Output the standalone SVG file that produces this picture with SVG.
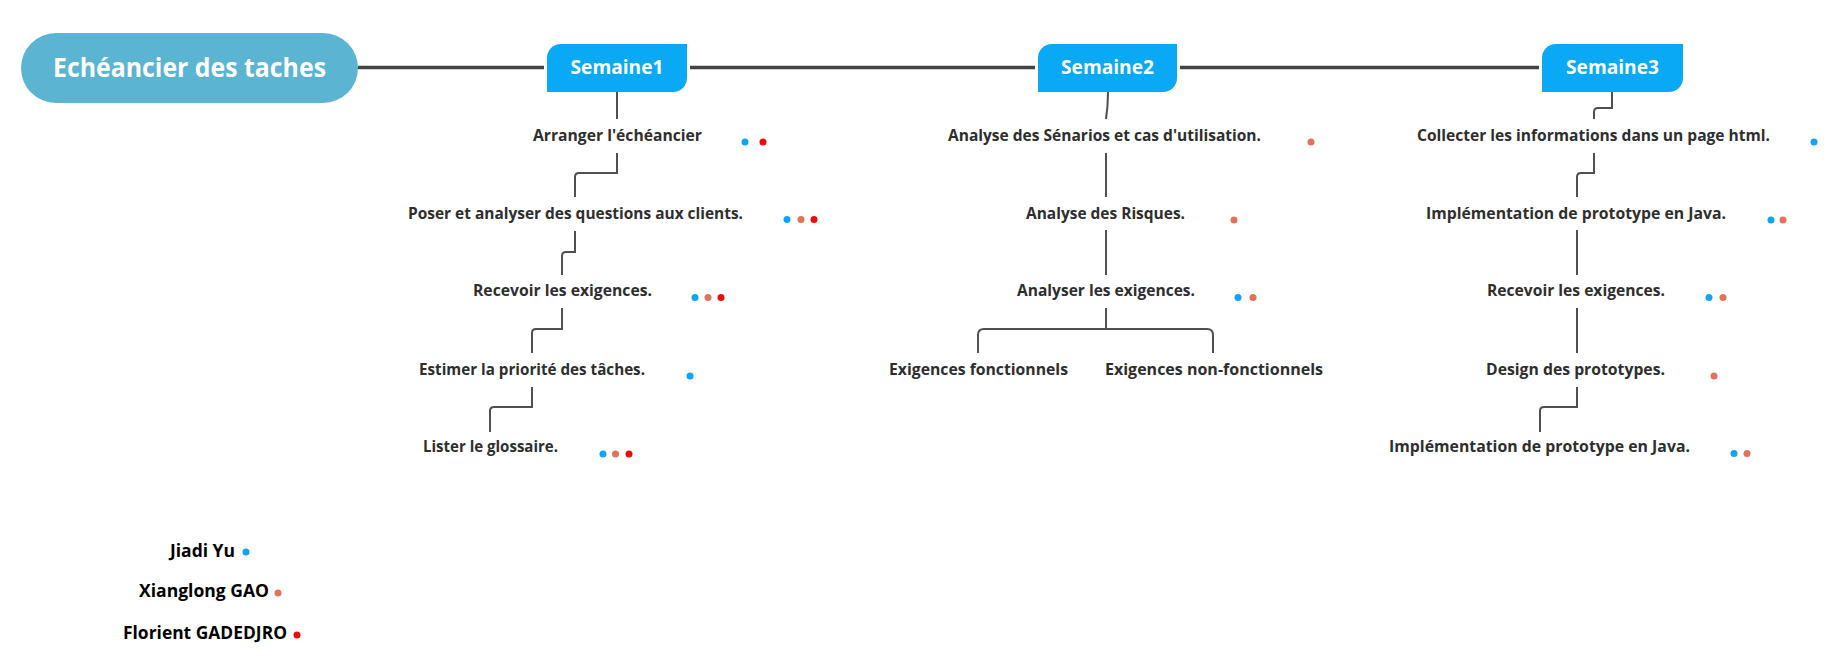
<svg xmlns="http://www.w3.org/2000/svg" width="1846" height="670" viewBox="0 0 1846 670">
<style>
.t{font-family:"Open Sans","Liberation Sans",sans-serif;font-weight:bold;font-size:16.5px;fill:#2e2e2e;text-anchor:middle}
.lg{font-family:"Open Sans","Liberation Sans",sans-serif;font-weight:bold;font-size:17px;fill:#000;text-anchor:middle}
.wk{font-family:"Open Sans","Liberation Sans",sans-serif;font-weight:bold;font-size:19.5px;fill:#fff;text-anchor:middle}
.c{fill:none;stroke:#505050;stroke-width:2}
.main{fill:none;stroke:#444;stroke-width:3.5}
.wbox{fill:#0aa9f5}
.b{fill:#0ea5f5}.o{fill:#e2735a}.r{fill:#f20a0a}
</style>
<rect width="1846" height="670" fill="#fff"/>
<g id="connectors">
<path class="main" d="M358,67.5 H544 M690,67.5 H1035 M1180,67.5 H1539"/>
<path class="c" d="M617,92 V119"/>
<path class="c" d="M617,153 V173 H579 Q575,173 575,177 V197"/>
<path class="c" d="M575,231 V252 H566 Q562,252 562,256 V275"/>
<path class="c" d="M562,308 V329 H536 Q532,329 532,333 V353"/>
<path class="c" d="M532,387 V407 H494 Q490,407 490,411 V432"/>
<path class="c" d="M1108,92 Q1108,106 1106,119"/>
<path class="c" d="M1106,153 V197"/>
<path class="c" d="M1106,230 V275"/>
<path class="c" d="M1106,308 V329 M978,353 V335 Q978,329 984,329 H1207 Q1213,329 1213,335 V353"/>
<path class="c" d="M1612,92 V108 H1598 Q1594,108 1594,112 V119"/>
<path class="c" d="M1594,153 V173 H1581 Q1577,173 1577,177 V197"/>
<path class="c" d="M1577,230 V275"/>
<path class="c" d="M1577,308 V353"/>
<path class="c" d="M1577,387 V407 H1544 Q1540,407 1540,411 V432"/>
</g>
<g id="root">
<rect x="21" y="33" width="337" height="70" rx="35" fill="#5ab4d2"/>
<text x="189.5" y="77" font-family="'Open Sans','Liberation Sans',sans-serif" font-weight="bold" font-size="27.5" fill="#fff" text-anchor="middle" textLength="273" lengthAdjust="spacingAndGlyphs">Echéancier des taches</text>
</g>
<g id="semaine1">
<path class="wbox" d="M561,44 H687 V78 A14,14 0 0 1 673,92 H547 V58 A14,14 0 0 1 561,44 Z"/>
<text class="wk" x="617" y="74" textLength="93" lengthAdjust="spacingAndGlyphs">Semaine1</text>
</g>
<g id="semaine2">
<path class="wbox" d="M1052,44 H1177 V78 A14,14 0 0 1 1163,92 H1038 V58 A14,14 0 0 1 1052,44 Z"/>
<text class="wk" x="1107.5" y="74" textLength="93" lengthAdjust="spacingAndGlyphs">Semaine2</text>
</g>
<g id="semaine3">
<path class="wbox" d="M1556,44 H1683 V78 A14,14 0 0 1 1669,92 H1542 V58 A14,14 0 0 1 1556,44 Z"/>
<text class="wk" x="1612.5" y="74" textLength="93" lengthAdjust="spacingAndGlyphs">Semaine3</text>
</g>
<g id="w1-arranger">
<text class="t" x="617.5" y="141" textLength="169" lengthAdjust="spacingAndGlyphs">Arranger l'échéancier</text>
<circle class="b" cx="745" cy="142" r="3.5"/><circle class="r" cx="763" cy="142" r="3.5"/>
</g>
<g id="w1-poser">
<text class="t" x="575.5" y="218.5" textLength="335" lengthAdjust="spacingAndGlyphs">Poser et analyser des questions aux clients.</text>
<circle class="b" cx="787" cy="219.5" r="3.5"/><circle class="o" cx="801" cy="219.5" r="3.5"/><circle class="r" cx="814" cy="219.5" r="3.5"/>
</g>
<g id="w1-recevoir">
<text class="t" x="562.5" y="296" textLength="179" lengthAdjust="spacingAndGlyphs">Recevoir les exigences.</text>
<circle class="b" cx="695" cy="297.5" r="3.5"/><circle class="o" cx="708" cy="297.5" r="3.5"/><circle class="r" cx="721" cy="297.5" r="3.5"/>
</g>
<g id="w1-estimer">
<text class="t" x="532" y="374.5" textLength="226" lengthAdjust="spacingAndGlyphs">Estimer la priorité des tâches.</text>
<circle class="b" cx="690" cy="376" r="3.5"/>
</g>
<g id="w1-lister">
<text class="t" x="490.5" y="452" textLength="135" lengthAdjust="spacingAndGlyphs">Lister le glossaire.</text>
<circle class="b" cx="603" cy="454" r="3.5"/><circle class="o" cx="615.5" cy="454" r="3.5"/><circle class="r" cx="629" cy="454" r="3.5"/>
</g>
<g id="w2-scenarios">
<text class="t" x="1104.5" y="141" textLength="313" lengthAdjust="spacingAndGlyphs">Analyse des Sénarios et cas d'utilisation.</text>
<circle class="o" cx="1311" cy="142" r="3.5"/>
</g>
<g id="w2-risques">
<text class="t" x="1105.5" y="218.5" textLength="159" lengthAdjust="spacingAndGlyphs">Analyse des Risques.</text>
<circle class="o" cx="1234" cy="220" r="3.5"/>
</g>
<g id="w2-analyser">
<text class="t" x="1106" y="296" textLength="178" lengthAdjust="spacingAndGlyphs">Analyser les exigences.</text>
<circle class="b" cx="1238" cy="297.5" r="3.5"/><circle class="o" cx="1253" cy="297.5" r="3.5"/>
</g>
<g id="w2-fonctionnels">
<text class="t" x="978.5" y="374.5" textLength="179" lengthAdjust="spacingAndGlyphs">Exigences fonctionnels</text>
</g>
<g id="w2-nonfonctionnels">
<text class="t" x="1214" y="374.5" textLength="218" lengthAdjust="spacingAndGlyphs">Exigences non-fonctionnels</text>
</g>
<g id="w3-collecter">
<text class="t" x="1593.5" y="141" textLength="353" lengthAdjust="spacingAndGlyphs">Collecter les informations dans un page html.</text>
<circle class="b" cx="1814" cy="142" r="3.5"/>
</g>
<g id="w3-java1">
<text class="t" x="1576" y="218.5" textLength="300" lengthAdjust="spacingAndGlyphs">Implémentation de prototype en Java.</text>
<circle class="b" cx="1771" cy="220" r="3.5"/><circle class="o" cx="1783" cy="220" r="3.5"/>
</g>
<g id="w3-recevoir">
<text class="t" x="1576" y="296" textLength="178" lengthAdjust="spacingAndGlyphs">Recevoir les exigences.</text>
<circle class="b" cx="1709" cy="297.5" r="3.5"/><circle class="o" cx="1723" cy="297.5" r="3.5"/>
</g>
<g id="w3-design">
<text class="t" x="1575.5" y="374.5" textLength="179" lengthAdjust="spacingAndGlyphs">Design des prototypes.</text>
<circle class="o" cx="1714" cy="376" r="3.5"/>
</g>
<g id="w3-java2">
<text class="t" x="1539.5" y="452" textLength="301" lengthAdjust="spacingAndGlyphs">Implémentation de prototype en Java.</text>
<circle class="b" cx="1734" cy="453.5" r="3.5"/><circle class="o" cx="1747" cy="453.5" r="3.5"/>
</g>
<g id="legend-jiadi">
<text class="lg" x="202.5" y="557" textLength="65" lengthAdjust="spacingAndGlyphs">Jiadi Yu</text>
<circle class="b" cx="246" cy="552" r="3.5"/>
</g>
<g id="legend-xianglong">
<text class="lg" x="204" y="597" textLength="130" lengthAdjust="spacingAndGlyphs">Xianglong GAO</text>
<circle class="o" cx="278" cy="593" r="3.5"/>
</g>
<g id="legend-florient">
<text class="lg" x="205" y="639" textLength="164" lengthAdjust="spacingAndGlyphs">Florient GADEDJRO</text>
<circle class="r" cx="297" cy="635" r="3.5"/>
</g>
</svg>
